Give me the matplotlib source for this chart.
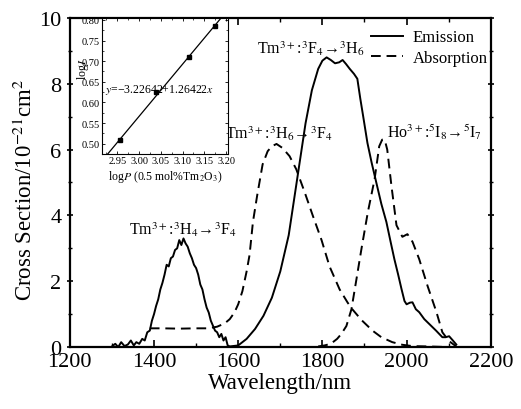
import numpy as np
import matplotlib
matplotlib.use("Agg")
import matplotlib.pyplot as plt
from matplotlib.ticker import MultipleLocator

plt.rcParams['font.family'] = ['Liberation Serif', 'DejaVu Serif']
plt.rcParams['mathtext.fontset'] = 'stix'

# emission cross section (solid)
em_wl = [1300, 1308, 1315, 1322, 1330, 1338, 1345, 1352, 1358, 1365, 1372, 1378,
         1384, 1390, 1395, 1400, 1405, 1410, 1415, 1420, 1425, 1430, 1435, 1440,
         1445, 1450, 1455, 1460, 1465, 1470, 1475, 1480, 1485, 1490, 1495, 1500,
         1505, 1510, 1515, 1520, 1525, 1530, 1535, 1540, 1545, 1550, 1555, 1560,
         1565, 1570, 1575, 1580, 1600, 1620, 1640, 1660, 1680, 1700, 1720, 1740,
         1760, 1775, 1790, 1800, 1810, 1820, 1830, 1840, 1848, 1856, 1865, 1875,
         1883, 1890, 1897, 1907, 1917, 1928, 1940, 1952, 1962, 1971, 1980, 1988,
         1995, 2000, 2008, 2014, 2022, 2030, 2042, 2054, 2070, 2085, 2093, 2101,
         2110, 2118]
em_val = [0.02, 0.1, 0.0, 0.15, 0.03, 0.08, 0.2, 0.05, 0.15, 0.1, 0.25, 0.2,
          0.45, 0.5, 0.8, 1.0, 1.25, 1.45, 1.75, 1.95, 2.2, 2.5, 2.45, 2.7,
          2.75, 2.95, 3.0, 3.25, 3.1, 3.3, 3.15, 3.05, 2.85, 2.7, 2.5, 2.4,
          2.2, 1.9, 1.75, 1.45, 1.2, 1.05, 0.8, 0.65, 0.5, 0.45, 0.3, 0.4,
          0.2, 0.3, 0.05, 0.02, 0.05, 0.25, 0.55, 0.95, 1.5, 2.3, 3.4, 5.1,
          6.8, 7.8, 8.45, 8.7, 8.8, 8.72, 8.62, 8.65, 8.72, 8.6, 8.45, 8.3,
          8.15, 7.55, 7.0, 6.2, 5.6, 5.0, 4.35, 3.8, 3.2, 2.67, 2.2, 1.76,
          1.4, 1.3, 1.35, 1.36, 1.15, 1.06, 0.85, 0.7, 0.5, 0.3, 0.3, 0.33,
          0.2, 0.08]

# Tm absorption (dashed)
tm_wl = [1390, 1420, 1460, 1500, 1530, 1550, 1568, 1580, 1591, 1600, 1610, 1620,
         1627, 1635, 1645, 1658, 1670, 1680, 1691, 1705, 1722, 1738, 1758, 1777,
         1798, 1817, 1841, 1860, 1871, 1893, 1919, 1940, 1966, 1990, 2014, 2050, 2100]
tm_val = [0.57, 0.57, 0.56, 0.57, 0.57, 0.62, 0.72, 0.85, 1.05, 1.3, 1.7, 2.3,
          2.8, 3.8, 4.6, 5.55, 5.95, 6.1, 6.17, 6.05, 5.8, 5.4, 4.7, 4.0,
          3.25, 2.45, 1.75, 1.35, 1.15, 0.82, 0.5, 0.3, 0.15, 0.07, 0.03, 0.02, 0.0]

# Ho absorption (dashed)
ho_wl = [1790, 1805, 1820, 1835, 1845, 1857, 1869, 1881, 1893, 1908, 1924, 1935,
         1942, 1948, 1954, 1964, 1976, 1990, 2002, 2014, 2030, 2050, 2071, 2085,
         2101, 2118]
ho_val = [0.02, 0.05, 0.1, 0.25, 0.4, 0.64, 1.15, 2.07, 3.0, 4.1, 5.1, 6.1,
          6.3, 6.3, 6.0, 4.9, 3.7, 3.35, 3.43, 3.2, 2.67, 1.85, 1.06, 0.45,
          0.18, 0.02]

# inset: log I vs log P
logP = [2.955, 3.04, 3.115, 3.175]
logI = [0.51, 0.625, 0.71, 0.785]
fit_a, fit_b = -3.22642, 1.26422

fig = plt.figure(figsize=(5.21, 4.10), dpi=100)
ax = fig.add_axes([0.134, 0.151, 0.808, 0.803])

dash = (0, (5, 3))
ax.plot(em_wl, em_val, color='black', lw=1.4, label='Emission')
ax.plot(tm_wl, tm_val, color='black', lw=1.4, ls=dash, label='Absorption')
ax.plot(ho_wl, ho_val, color='black', lw=1.4, ls=dash)

ax.set_xlim(1200, 2200)
ax.set_ylim(0, 10)
ax.xaxis.set_major_locator(MultipleLocator(200))
ax.xaxis.set_minor_locator(MultipleLocator(100))
ax.yaxis.set_major_locator(MultipleLocator(2))
ax.yaxis.set_minor_locator(MultipleLocator(1))
ax.tick_params(axis='both', which='both', top=True, right=True, labelsize=16)
ax.tick_params(axis='x', which='both', direction='in')
ax.tick_params(axis='y', which='both', direction='in')
ax.tick_params(axis='y', which='both', left=True, direction='inout')
ax.tick_params(which='major', length=5, width=1.2)
ax.tick_params(which='minor', length=3, width=1.0)
for s in ax.spines.values():
    s.set_linewidth(1.6)

ax.set_xlabel('Wavelength/nm', fontsize=16.5, labelpad=1)
ax.set_ylabel(r'Cross Section/10$^{-21}$cm$^{2}$', fontsize=16.5)
ax.yaxis.set_label_coords(-0.078, 0.48)

lab = 11.5
ax.text(1772, 9.1, r'Tm$^{3+}$:$^3$F$_4$→$^3$H$_6$', fontsize=lab, ha='center', va='center')
ax.text(1697, 6.5, r'Tm$^{3+}$:$^3$H$_6$→$^3$F$_4$', fontsize=lab, ha='center', va='center')
ax.text(2066, 6.55, r'Ho$^{3+}$:$^5$I$_8$→$^5$I$_7$', fontsize=lab, ha='center', va='center')
ax.text(1468, 3.6, r'Tm$^{3+}$:$^3$H$_4$→$^3$F$_4$', fontsize=lab, ha='center', va='center')

ax.legend(loc='upper left', bbox_to_anchor=(0.70, 0.985), frameon=False, fontsize=12,
          handlelength=1.9, handletextpad=0.6, labelspacing=0.25, borderaxespad=0)

# inset
ins = fig.add_axes([0.196, 0.622, 0.242, 0.332])
xs = np.array([2.915, 3.205])
ins.plot(xs, fit_a + fit_b * xs, color='black', lw=0.9)
ins.plot(logP, logI, 's', color='black', ms=3)
ins.set_xlim(2.915, 3.205)
ins.set_ylim(0.475, 0.805)
ins.xaxis.set_major_locator(MultipleLocator(0.05))
ins.xaxis.set_minor_locator(MultipleLocator(0.025))
ins.yaxis.set_major_locator(MultipleLocator(0.05))
ins.yaxis.set_minor_locator(MultipleLocator(0.025))
ins.xaxis.set_major_formatter(plt.FormatStrFormatter('%.2f'))
ins.yaxis.set_major_formatter(plt.FormatStrFormatter('%.2f'))
ins.tick_params(which='both', direction='in', top=True, right=True, labelsize=7.5, pad=1.5)
ins.tick_params(which='major', length=2.5, width=0.6)
ins.tick_params(which='minor', length=1.5, width=0.5)
for s in ins.spines.values():
    s.set_linewidth(0.8)
ins.set_xlabel(r'log$P$ (0.5 mol%Tm$_2$O$_3$)', fontsize=8.5, labelpad=2)
ins.set_ylabel(r'log$I$', fontsize=8.5)
ins.yaxis.set_label_coords(-0.09, 0.63)
ins.text(2.921, 0.632, r'$y$=−3.22642+1.26422$x$', fontsize=8.5, va='center', ha='left')

fig.savefig('out.png', dpi=100)
